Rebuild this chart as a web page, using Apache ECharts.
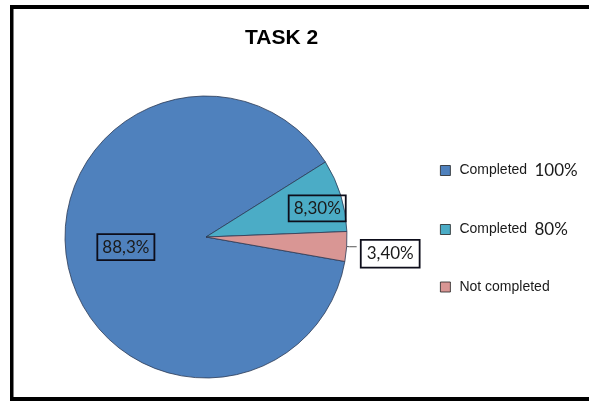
<!DOCTYPE html>
<html>
<head>
<meta charset="utf-8">
<script src="https://cdn.jsdelivr.net/npm/echarts@6/dist/echarts.min.js"></script>
<style>
  html, body { margin: 0; padding: 0; background: #fff; }
  #chart { width: 589px; height: 401px; }
</style>
</head>
<body>
<div id="chart"></div>
<script>
// Task 2 completion shares
const categories = ['Completed 100%', 'Completed 80%', 'Not completed'];
const values = [88.3, 8.3, 3.4];
const valueLabels = ['88,3%', '8,30%', '3,40%'];
const colors = ['#4F81BD', '#4BACC6', '#D99694'];

const chart = echarts.init(document.getElementById('chart'), null, { renderer: 'canvas' });

const boxLabel = {
  fontFamily: 'Lato, "Open Sans", sans-serif',
  fontSize: 17,
  color: '#1a1a1a',
  borderColor: '#0d0d1a',
  borderWidth: 1.8,
  padding: [5, 5, 4, 5]
};

const seriesData = categories.map((name, i) => {
  const item = { name: name, value: values[i], itemStyle: { color: colors[i] } };
  if (i === 2) {
    item.label = Object.assign({}, boxLabel, {
      position: 'outside',
      backgroundColor: '#fff'
    });
    item.labelLine = { show: true, length: 3, length2: 7, lineStyle: { color: '#555', width: 1 } };
  } else {
    item.label = Object.assign({}, boxLabel, { position: 'inside' });
    item.labelLine = { show: false };
  }
  return item;
});

chart.setOption({
  backgroundColor: '#fff',
  animation: false,
  title: {
    text: 'TASK 2',
    left: 245,
    top: 28,
    padding: 0,
    textStyle: {
      fontFamily: '"Liberation Sans", Arial, sans-serif',
      fontSize: 21,
      fontWeight: 'bold',
      color: '#000'
    }
  },
  legend: {
    orient: 'vertical',
    left: 435,
    top: 157,
    itemGap: 42,
    itemWidth: 10,
    itemHeight: 10,
    icon: 'rect',
    itemStyle: { borderColor: '#222', borderWidth: 0.8 },
    data: categories,
    formatter: function (name) {
      const m = name.match(/^(.*) (\d+%)$/);
      return m ? '{a|' + m[1] + '}{b| ' + m[2] + '}' : '{a|' + name + '}';
    },
    textStyle: {
      rich: {
        a: { fontFamily: '"Liberation Sans", Arial, sans-serif', fontSize: 14, lineHeight: 19, color: '#1a1a1a', padding: [0, 0, 0, 4] },
        b: { fontFamily: 'Lato, "Open Sans", sans-serif', fontSize: 17, lineHeight: 19, color: '#1a1a1a', padding: [0, 0, 0, 3] }
      }
    }
  },
  series: [{
    type: 'pie',
    center: [206, 237],
    radius: [0, 141],
    startAngle: 350,
    clockwise: true,
    avoidLabelOverlap: false,
    itemStyle: { borderColor: '#2b3a55', borderWidth: 0.8 },
    emphasis: { disabled: true },
    label: {
      show: true,
      formatter: function (p) { return valueLabels[p.dataIndex]; }
    },
    labelLayout: function (params) {
      if (params.dataIndex === 0) return { dx: -8, dy: -4 };
      if (params.dataIndex === 1) return { dx: 41, dy: -7 };
      return { dy: 7 };
    },
    data: seriesData
  }],
  graphic: [
    { type: 'rect', shape: { x: 10, y: 5, width: 579, height: 4 }, style: { fill: '#000' }, silent: true },
    { type: 'rect', shape: { x: 10, y: 5, width: 3.5, height: 396 }, style: { fill: '#000' }, silent: true },
    { type: 'rect', shape: { x: 10, y: 397, width: 579, height: 4 }, style: { fill: '#000' }, silent: true }
  ]
});
</script>
</body>
</html>
